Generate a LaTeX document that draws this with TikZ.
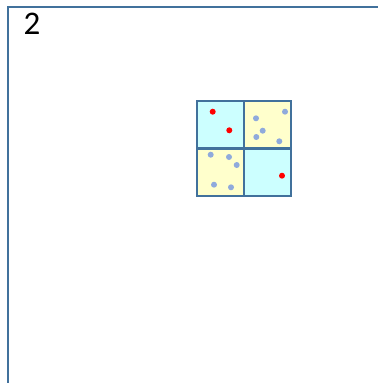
\documentclass[tikz,border=0pt]{standalone}
\usepackage{fontspec}
\setmainfont{Carlito}
\definecolor{frameblue}{RGB}{65,113,156}
\definecolor{cellcyan}{RGB}{204,255,255}
\definecolor{cellyellow}{RGB}{255,255,204}
\definecolor{dotblue}{RGB}{143,170,220}
\definecolor{dotred}{RGB}{255,0,0}
\begin{document}
\begin{tikzpicture}[x=1pt,y=-1pt,
  cellbox/.style={draw=frameblue,line width=2.8pt},
  reddot/.style={fill=dotred},
  bluedot/.style={fill=dotblue}]
\useasboundingbox (0,0) rectangle (378,383);
\draw[frameblue,line width=2.5pt] (8,383) -- (8,7) -- (378,7);
\node[font=\fontsize{33}{33}\selectfont,inner sep=0pt] (label) at (32,24) {2};
% cells
\fill[cellcyan] (197,101) rectangle (244,148.5);
\fill[cellyellow] (244,101) rectangle (291,148.5);
\fill[cellyellow] (197,148.5) rectangle (244,196);
\fill[cellcyan] (244,148.5) rectangle (291,196);
\draw[cellbox] (197,101) rectangle (291,196);
\draw[cellbox] (244,101) -- (244,196);
\draw[cellbox] (197,148.5) -- (291,148.5);
% dots
\foreach \p in {(212.7,111.7),(229.3,130.3),(282,175.7)}
  \fill[reddot] \p circle (3);
\foreach \p in {(256,118.3),(285,111.7),(262.7,130.7),(256.3,137),(279.3,141.3),
                (210.7,154.7),(229,157),(236.7,165),(214,184.7),(231,187.3)}
  \fill[bluedot] \p circle (3);
\end{tikzpicture}
\end{document}
